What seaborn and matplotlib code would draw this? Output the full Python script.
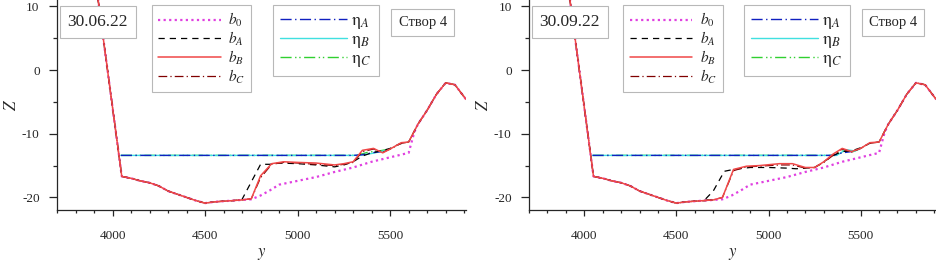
import numpy as np
import pandas as pd
import matplotlib
matplotlib.use("Agg")
import matplotlib.pyplot as plt
import seaborn as sns
from matplotlib.ticker import MultipleLocator

# --- Data ---
# shared banks of the cross-section
bank_left_y = [3920, 4050, 4100, 4150, 4200, 4250, 4300, 4350, 4400, 4450, 4500, 4550, 4600, 4650, 4700]
bank_left_z = [11.5, -16.7, -17.0, -17.4, -17.7, -18.2, -19.0, -19.5, -20.0, -20.5, -20.9, -20.7, -20.6, -20.5, -20.4]
bank_right_y = [5650, 5700, 5750, 5800, 5850, 5910]
bank_right_z = [-8.5, -6.3, -3.8, -2.0, -2.3, -4.6]

# initial bed b0 (same for both dates)
b0_y = [4750, 4800, 4850, 4900, 4950, 5000, 5100, 5200, 5300, 5400, 5500, 5600, 5630]
b0_z = [-20.3, -19.7, -18.9, -18.0, -17.7, -17.4, -16.8, -16.0, -15.3, -14.4, -13.7, -13.0, -9.8]

# 30.06.22
jun_bA_y = [4700, 4800, 4850, 4900, 5000, 5100, 5200, 5250, 5300, 5350, 5400, 5450, 5500, 5550, 5600]
jun_bA_z = [-20.3, -14.8, -14.8, -14.6, -14.7, -14.9, -15.2, -14.9, -14.4, -13.5, -13.0, -12.7, -12.3, -11.6, -11.3]
jun_bB_y = [4750, 4800, 4860, 4925, 5000, 5100, 5200, 5250, 5300, 5350, 5410, 5460, 5500, 5560, 5600]
jun_bB_z = [-20.2, -16.6, -14.7, -14.4, -14.5, -14.6, -14.9, -14.7, -14.4, -12.6, -12.3, -13.0, -12.4, -11.4, -11.3]
jun_bC_z = [-20.2, -16.9, -14.8, -14.5, -14.6, -14.8, -15.0, -14.8, -14.5, -12.8, -12.4, -12.9, -12.4, -11.5, -11.3]
jun_etaA_y = [4045, 5300, 5350, 5400, 5450]
jun_etaA_z = [-13.4, -13.4, -13.3, -13.0, -12.8]
jun_etaB_y = [4045, 5330, 5400, 5450, 5500]
jun_etaB_z = [-13.4, -13.4, -13.1, -12.8, -12.4]
jun_etaC_y = [4045, 5320, 5380, 5440, 5480]
jun_etaC_z = [-13.4, -13.4, -12.9, -12.7, -12.5]

# 30.09.22
sep_bA_y = [4650, 4700, 4760, 4810, 4900, 5000, 5100, 5150, 5200, 5250, 5300, 5350, 5400, 5450, 5500, 5550, 5600]
sep_bA_z = [-20.5, -19.0, -15.9, -15.6, -15.3, -15.3, -15.4, -15.5, -15.4, -15.3, -14.4, -13.4, -12.8, -12.7, -12.2, -11.5, -11.3]
sep_bB_y = [4750, 4810, 4880, 4950, 5060, 5130, 5200, 5250, 5300, 5350, 5400, 5450, 5500, 5550, 5600]
sep_bB_z = [-20.0, -15.6, -15.1, -15.0, -14.7, -14.7, -15.3, -15.3, -14.4, -13.2, -12.3, -12.8, -12.3, -11.4, -11.3]
sep_bC_z = [-20.0, -15.8, -15.2, -15.1, -14.9, -14.9, -15.4, -15.3, -14.5, -13.4, -12.4, -12.9, -12.3, -11.5, -11.3]
sep_etaA_y = [4045, 5350, 5400, 5450]
sep_etaA_z = [-13.4, -13.4, -13.0, -12.8]
sep_etaB_y = [4045, 5370, 5420, 5470, 5500]
sep_etaB_z = [-13.4, -13.4, -12.5, -12.7, -12.3]
sep_etaC_y = [4045, 5360, 5410, 5460, 5490]
sep_etaC_z = [-13.4, -13.4, -12.6, -12.8, -12.4]

dates = ["30.06.22", "30.09.22"]
section_label = "Створ 4"

# --- Style ---
sns.set_style("ticks")
plt.rcParams['font.family'] = ['Liberation Serif', 'DejaVu Serif']
plt.rcParams['mathtext.fontset'] = 'stix'
plt.rcParams['axes.unicode_minus'] = False

styles = {
    'b0':   dict(color='#e040e0', linestyle=(0, (1, 1.5)), linewidth=1.6),
    'bA':   dict(color='black', linestyle=(0, (5, 4)), linewidth=0.9),
    'bB':   dict(color='#f04848', linestyle='-', linewidth=1.1),
    'bC':   dict(color='#800000', linestyle=(0, (7, 2.5, 1, 2.5)), linewidth=0.9),
    'etaA': dict(color='#1020c0', linestyle=(0, (8, 2.5, 1, 2.5)), linewidth=1.0),
    'etaB': dict(color='#40e0e0', linestyle='-', linewidth=1.0),
    'etaC': dict(color='#30d030', linestyle=(0, (8, 2.5, 1, 2, 1, 2.5)), linewidth=1.0),
}
b_labels = {'b0': '$b_0$', 'bA': '$b_A$', 'bB': '$b_B$', 'bC': '$b_C$'}
eta_labels = {'etaA': r'$\mathrm{\eta}_A$', 'etaB': r'$\mathrm{\eta}_B$', 'etaC': r'$\mathrm{\eta}_C$'}


def full_profile(mid_y, mid_z):
    y = bank_left_y + list(mid_y) + bank_right_y
    z = bank_left_z + list(mid_z) + bank_right_z
    return y, z


panels = [
    dict(date=dates[0], bA=(jun_bA_y, jun_bA_z), bB=(jun_bB_y, jun_bB_z), bC=(jun_bB_y, jun_bC_z),
         etaA=(jun_etaA_y, jun_etaA_z), etaB=(jun_etaB_y, jun_etaB_z), etaC=(jun_etaC_y, jun_etaC_z)),
    dict(date=dates[1], bA=(sep_bA_y, sep_bA_z), bB=(sep_bB_y, sep_bB_z), bC=(sep_bB_y, sep_bC_z),
         etaA=(sep_etaA_y, sep_etaA_z), etaB=(sep_etaB_y, sep_etaB_z), etaC=(sep_etaC_y, sep_etaC_z)),
]

fig = plt.figure(figsize=(9.36, 2.62), dpi=100)
axes_rects = [[0.0609, 0.198, 0.437, 0.8015], [0.5652, 0.198, 0.435, 0.8015]]

for rect, p in zip(axes_rects, panels):
    ax = fig.add_axes(rect)
    series = {
        'b0': full_profile(b0_y, b0_z),
        'bA': full_profile(*p['bA']),
        'bB': full_profile(*p['bB']),
        'bC': full_profile(*p['bC']),
        'etaA': p['etaA'],
        'etaB': p['etaB'],
        'etaC': p['etaC'],
    }
    lines = {}
    for key in ['etaC', 'etaB', 'etaA', 'b0', 'bA', 'bC', 'bB']:
        y, z = series[key]
        df = pd.DataFrame({'y': y, 'z': z})
        sns.lineplot(data=df, x='y', y='z', sort=False, estimator=None, ax=ax, **styles[key])
        lines[key] = ax.get_lines()[-1]

    ax.set_xlim(3700, 5910)
    ax.set_ylim(-22, 11)
    ax.xaxis.set_major_locator(MultipleLocator(500))
    ax.xaxis.set_minor_locator(MultipleLocator(100))
    ax.yaxis.set_major_locator(MultipleLocator(10))
    ax.yaxis.set_minor_locator(MultipleLocator(5))
    ax.tick_params(which='both', direction='out', width=0.9, labelsize=9.5)
    ax.tick_params(axis='x', which='major', length=4.5, pad=10)
    ax.tick_params(axis='y', which='major', length=5.5, pad=7)
    ax.tick_params(axis='x', which='minor', length=2.5)
    ax.tick_params(axis='y', which='minor', length=3)
    sns.despine(ax=ax)
    for s in ['left', 'bottom']:
        ax.spines[s].set_linewidth(0.9)
    ax.set_xlabel('$y$', fontsize=12, labelpad=3)
    ax.set_ylabel('$Z$', fontsize=12, labelpad=1.5)

    leg1 = ax.legend([lines[k] for k in b_labels], list(b_labels.values()),
                     loc='upper left', bbox_to_anchor=(0.232, 0.978), borderaxespad=0,
                     fontsize=11, handlelength=4.1, handletextpad=0.5, labelspacing=0.05,
                     borderpad=0.4, fancybox=False, framealpha=1, edgecolor='#b8b8b8')
    leg1.get_frame().set_linewidth(0.8)
    ax.add_artist(leg1)
    leg2 = ax.legend([lines[k] for k in eta_labels], list(eta_labels.values()),
                     loc='upper left', bbox_to_anchor=(0.527, 0.978), borderaxespad=0,
                     fontsize=13, handlelength=3.7, handletextpad=0.25, labelspacing=0.0,
                     borderpad=0.4, fancybox=False, framealpha=1, edgecolor='#b8b8b8')
    leg2.get_frame().set_linewidth(0.8)

    ax.text(0.100, 0.895, p['date'], transform=ax.transAxes, ha='center', va='center',
            fontsize=12.5, zorder=5,
            bbox=dict(boxstyle='square,pad=0.45', fc='white', ec='#b8b8b8', lw=0.8))
    ax.text(0.894, 0.893, section_label, transform=ax.transAxes, ha='center', va='center',
            fontsize=10.5, zorder=5,
            bbox=dict(boxstyle='square,pad=0.5', fc='white', ec='#b8b8b8', lw=0.8))

fig.savefig('out.png', dpi=100)
